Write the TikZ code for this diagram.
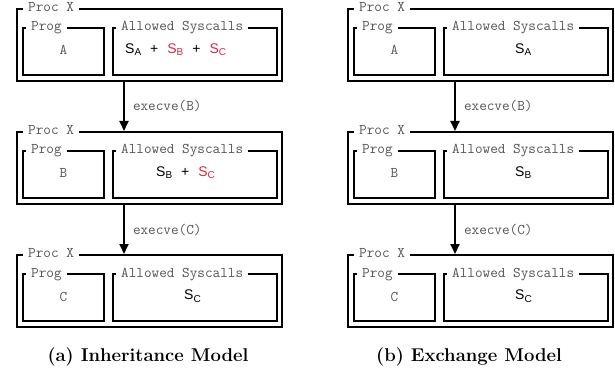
\documentclass[tikz,border=0pt]{standalone}
\usepackage{fontspec}
\newfontfamily\sansf{Liberation Sans}
\usetikzlibrary{arrows.meta}
\definecolor{lblgray}{HTML}{555555}
\definecolor{sysred}{HTML}{D22D3C}
\newcommand{\sysc}[1]{S\raisebox{-2.5pt}{\fontsize{10}{10}\selectfont #1}}
\newcommand{\plussign}{\hspace{9pt}+\hspace{9pt}}
\newcommand{\rsys}[1]{\textcolor{sysred}{\sysc{#1}}}
\newcommand{\monofont}{\ttfamily\fontsize{14.8}{14.8}\selectfont}
\tikzset{
  box/.style={draw, line width=2pt, inner sep=0pt, anchor=north west},
  lbl/.style={font=\monofont, text=lblgray, fill=white,
              inner xsep=5pt, inner ysep=1pt, anchor=base west},
  progtxt/.style={font=\monofont, text=lblgray, inner sep=0pt, anchor=base},
  systxt/.style={font=\sansf\fontsize{14}{14}\selectfont, inner sep=0pt, anchor=base west},
  arr/.style={line width=2pt, -{Triangle[length=10pt,width=9pt]}},
  elbl/.style={font=\monofont, text=lblgray, inner sep=0pt, anchor=base west},
  captxt/.style={font=\bfseries\fontsize{18.5}{18.5}\selectfont, inner sep=0pt, anchor=base}
}
% name, x, y, prog letter, syscall content, content offset
\newcommand{\procrow}[6]{%
  \node[box, minimum width=265pt, minimum height=72pt] (#1) at (#2,#3) {};
  \node[box, minimum width=81pt, minimum height=47pt] (#1p) at (#2+6,#3+19) {};
  \node[box, minimum width=164pt, minimum height=47pt] (#1s) at (#2+96,#3+19) {};
  \node[lbl] (#1lo) at ([xshift=7pt,yshift=-4pt]#1.north west) {Proc X};
  \node[lbl] (#1lp) at ([xshift=4pt,yshift=-4pt]#1p.north west) {Prog};
  \node[lbl] (#1ls) at ([xshift=4pt,yshift=-4pt]#1s.north west) {Allowed Syscalls};
  \node[progtxt] (#1pt) at ([yshift=-28pt]#1p.north) {#4};
  \node[systxt] (#1st) at ([xshift=#6pt,yshift=-26.5pt]#1s.north west) {#5};
}
\begin{document}
\begin{tikzpicture}[x=1pt,y=-1pt]
\useasboundingbox (0,0) rectangle (615,371);
% (a) Inheritance Model
\procrow{a1}{16}{8}{A}{\sysc{A}\plussign\rsys{B}\plussign\rsys{C}}{13}
\procrow{a2}{16}{131}{B}{\sysc{B}\plussign\rsys{C}}{44}
\procrow{a3}{16}{254}{C}{\sysc{C}}{72}
\draw[arr] ([xshift=-25.5pt]a1.south) -- ([xshift=-25.5pt]a2.north)
  node[elbl, pos=0.5, xshift=8pt, yshift=-4.5pt] (ea1) {execve(B)};
\draw[arr] ([xshift=-25.5pt]a2.south) -- ([xshift=-25.5pt]a3.north)
  node[elbl, pos=0.5, xshift=8pt, yshift=-4.5pt] (ea2) {execve(C)};
\node[captxt] (capa) at (148,361) {(a) Inheritance Model};
% (b) Exchange Model
\procrow{b1}{347}{8}{A}{\sysc{A}}{72}
\procrow{b2}{347}{131}{B}{\sysc{B}}{72}
\procrow{b3}{347}{254}{C}{\sysc{C}}{72}
\draw[arr] ([xshift=-25.5pt]b1.south) -- ([xshift=-25.5pt]b2.north)
  node[elbl, pos=0.5, xshift=8pt, yshift=-4.5pt] (eb1) {execve(B)};
\draw[arr] ([xshift=-25.5pt]b2.south) -- ([xshift=-25.5pt]b3.north)
  node[elbl, pos=0.5, xshift=8pt, yshift=-4.5pt] (eb2) {execve(C)};
\node[captxt] (capb) at (469,361) {(b) Exchange Model};
\end{tikzpicture}
\end{document}
